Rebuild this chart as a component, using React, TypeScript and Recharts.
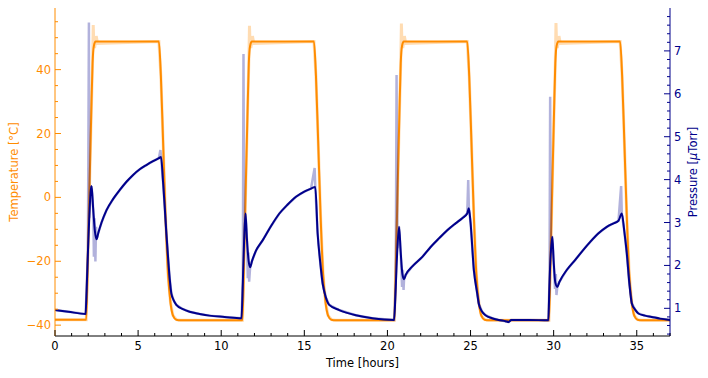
import { LineChart, Line, XAxis, YAxis } from "recharts";

const ORANGE = "#ff8c00";
const NAVY = "#00008b";
const FONT = '"DejaVu Sans", sans-serif';
const FONT_SIZE = 11.5;

// smoothed temperature [°C] vs time [hours]
const tempTime = [
    0, 1.88, 1.98, 2.08, 2.18, 2.26, 2.34, 2.44,
    6.25, 6.37, 6.5, 6.65, 6.8, 6.95, 7.1, 7.3, 7.55,
    11.28, 11.38, 11.48, 11.58, 11.66, 11.74, 11.84,
    15.58, 15.7, 15.83, 15.98, 16.13, 16.28, 16.43, 16.63, 16.88,
    20.42, 20.52, 20.62, 20.72, 20.8, 20.88, 20.98,
    24.8, 24.92, 25.05, 25.2, 25.35, 25.5, 25.65, 25.85, 26.1,
    29.72, 29.82, 29.92, 30.02, 30.1, 30.18, 30.28,
    34.0, 34.12, 34.25, 34.4, 34.55, 34.7, 34.85, 35.05, 35.3,
    37,
];
const tempValue = [
    -38.3, -38.3, -18, 4, 26, 42, 47.5, 48.8,
    48.8, 38, 18, -6, -24, -33, -37, -38.3, -38.5,
    -38.5, -18, 4, 26, 42, 47.5, 48.8,
    48.8, 38, 18, -6, -24, -33, -37, -38.3, -38.5,
    -38.5, -18, 4, 26, 42, 47.5, 48.8,
    48.8, 38, 18, -6, -24, -33, -37, -38.3, -38.5,
    -38.5, -18, 4, 26, 42, 47.5, 48.8,
    48.8, 38, 18, -6, -24, -33, -37, -38.3, -38.5,
    -38.5,
];

// raw temperature overshoot when each hot plateau starts
const tempSpikeTime = [
    2.3, 2.38, 2.48, 2.56,
    11.7, 11.78, 11.88, 11.96,
    20.84, 20.92, 21.02, 21.1,
    30.14, 30.22, 30.32, 30.4,
];
const tempSpikeValue = [
    54.0, 46.8, 50.5, 48.2,
    53.7, 46.8, 50.5, 48.2,
    54.4, 46.8, 50.5, 48.2,
    54.6, 46.8, 50.5, 48.2,
];

// smoothed pressure [µTorr] vs time [hours]
const pressTime = [
    0, 0.8, 1.84, 1.9, 1.98, 2.06, 2.14, 2.2, 2.3, 2.4, 2.5, 2.6, 2.8,
    3.1, 3.5, 3.9, 4.3, 4.7, 5.1, 5.5, 5.9, 6.25, 6.38,
    6.5, 6.6, 6.7, 6.8, 6.9, 7.0, 7.15, 7.3, 7.7, 8.1, 8.7, 9.3, 10.2,
    11.22, 11.3, 11.38, 11.46, 11.55, 11.65, 11.74, 11.85, 12.1, 12.5,
    13.0, 13.5, 14.0, 14.5, 15.0, 15.4, 15.66,
    15.8, 15.95, 16.1, 16.3, 16.5, 17.1, 18.1, 19.1,
    20.4, 20.5, 20.6, 20.7, 20.8, 20.9, 21.0, 21.1, 21.5, 22.1, 22.6,
    23.1, 23.6, 24.1, 24.5, 24.8, 24.9,
    25.0, 25.2, 25.4, 25.5, 25.7, 25.9, 26.3, 26.7, 27.1, 27.3, 27.45, 28.5,
    29.68, 29.75, 29.83, 29.92, 30.0, 30.1, 30.22, 30.35, 30.8, 31.3, 31.8,
    32.2, 32.7, 33.2, 33.6, 33.9, 34.1,
    34.25, 34.4, 34.55, 34.7, 34.9, 35.1, 35.5, 35.9, 36.4, 37,
];
const pressValue = [
    0.96, 0.92, 0.87, 1.4, 2.3, 3.1, 3.7, 3.85, 3.3, 2.8, 2.61, 2.75, 3.0,
    3.29, 3.55, 3.76, 3.95, 4.11, 4.24, 4.34, 4.43, 4.5, 4.53,
    3.95, 3.37, 2.75, 2.2, 1.7, 1.35, 1.18, 1.08, 0.98, 0.92, 0.87, 0.83, 0.8,
    0.77, 1.6, 2.6, 3.21, 2.6, 2.1, 1.96, 2.1, 2.35, 2.59,
    2.92, 3.21, 3.42, 3.6, 3.72, 3.79, 3.83,
    2.75, 2.1, 1.58, 1.25, 1.08, 0.96, 0.84, 0.77,
    0.73, 1.5, 2.4, 2.9, 2.3, 1.8, 1.68, 1.78, 1.98, 2.2, 2.43,
    2.63, 2.82, 2.98, 3.1, 3.21, 3.33,
    3.0, 1.89, 1.35, 1.1, 0.92, 0.84, 0.77, 0.73, 0.7, 0.68, 0.73, 0.73,
    0.72, 1.6, 2.3, 2.67, 2.1, 1.6, 1.5, 1.62, 1.9, 2.13, 2.37,
    2.55, 2.75, 2.9, 2.98, 3.04, 3.21,
    2.8, 2.28, 1.6, 1.12, 0.97, 0.88, 0.83, 0.8, 0.76, 0.73,
];

// raw pressure bursts: venting spike, ringing in the dip, spike at cool-down
const pressSpikeTime = [
    2.04, 2.34, 2.38, 2.43, 2.47, 6.34,
    11.34, 11.6, 11.64, 11.68, 15.62,
    20.55, 20.88, 20.93, 20.97, 24.86,
    29.79, 30.08, 30.13, 30.17, 34.06,
];
const pressSpikeValue = [
    7.66, 2.2, 3.1, 2.09, 2.9, 4.69,
    6.93, 1.7, 2.3, 1.62, 4.27,
    6.44, 1.5, 1.9, 1.43, 3.99,
    5.93, 1.45, 1.8, 1.31, 3.85,
];

const xMajorTicks = [0, 5, 10, 15, 20, 25, 30, 35];
const tempMajorTicks = [-40, -20, 0, 20, 40];
const pressMajorTicks = [1, 2, 3, 4, 5, 6, 7];

const xTicks = Array.from({ length: 38 }, (_, i) => i);
const tempTicks = Array.from({ length: 20 }, (_, i) => -40 + i * 5);
const pressTicks = Array.from({ length: 38 }, (_, i) => Math.round((0.4 + i * 0.2) * 10) / 10);

const series = (t: number[], v: number[]) => t.map((time, i) => ({ t: time, v: v[i] }));
const withSpikes = (t: number[], v: number[], st: number[], sv: number[]) =>
    [...series(t, v), ...series(st, sv)].sort((a, b) => a.t - b.t);

const tempData = series(tempTime, tempValue);
const tempRaw = withSpikes(tempTime, tempValue, tempSpikeTime, tempSpikeValue);
const pressData = series(pressTime, pressValue);
const pressRaw = withSpikes(pressTime, pressValue, pressSpikeTime, pressSpikeValue);

const fmt = (v: number) => (v < 0 ? "\u2212" + Math.abs(v) : String(v));

const renderXTick = (props: any) => {
    const { x, y, payload } = props;
    const v = payload.value;
    const major = xMajorTicks.includes(v);
    return (
        <g>
            <line x1={x} x2={x} y1={y} y2={y - (major ? 6 : 3)} stroke="#000" />
            {major && (
                <text x={x} y={y + 10} textAnchor="middle" dominantBaseline="central"
                    fontFamily={FONT} fontSize={FONT_SIZE} fill="#000">
                    {fmt(v)}
                </text>
            )}
        </g>
    );
};

const renderTempTick = (props: any) => {
    const { x, y, payload } = props;
    const v = payload.value;
    const major = tempMajorTicks.includes(v);
    return (
        <g>
            <line x1={x} x2={x + (major ? 6 : 3)} y1={y} y2={y} stroke={ORANGE} />
            {major && (
                <text x={x - 4} y={y} textAnchor="end" dominantBaseline="central"
                    fontFamily={FONT} fontSize={FONT_SIZE} fill={ORANGE}>
                    {fmt(v)}
                </text>
            )}
        </g>
    );
};

const renderPressTick = (props: any) => {
    const { x, y, payload } = props;
    const v = Math.round(payload.value * 10) / 10;
    const major = pressMajorTicks.includes(v);
    return (
        <g>
            <line x1={x} x2={x - (major ? 6 : 3)} y1={y} y2={y} stroke={NAVY} />
            {major && (
                <text x={x + 4} y={y} textAnchor="start" dominantBaseline="central"
                    fontFamily={FONT} fontSize={FONT_SIZE} fill={NAVY}>
                    {fmt(v)}
                </text>
            )}
        </g>
    );
};

const timeLabel = (props: any) => {
    const vb = props.viewBox || { x: 55, y: 336, width: 615, height: 42 };
    return (
        <text x={vb.x + vb.width / 2} y={vb.y + 27} textAnchor="middle" dominantBaseline="central"
            fontFamily={FONT} fontSize={FONT_SIZE} fill="#000">
            Time [hours]
        </text>
    );
};

const tempLabel = (props: any) => {
    const vb = props.viewBox || { x: 0, y: 8, width: 55, height: 328 };
    const cx = vb.x + 14;
    const cy = vb.y + vb.height / 2;
    return (
        <text x={cx} y={cy} transform={`rotate(-90, ${cx}, ${cy})`} textAnchor="middle"
            dominantBaseline="central" fontFamily={FONT} fontSize={FONT_SIZE} fill={ORANGE}>
            Temperature [°C]
        </text>
    );
};

const pressLabel = (props: any) => {
    const vb = props.viewBox || { x: 670, y: 8, width: 38, height: 328 };
    const cx = vb.x + 23;
    const cy = vb.y + vb.height / 2;
    return (
        <text x={cx} y={cy} transform={`rotate(-90, ${cx}, ${cy})`} textAnchor="middle"
            dominantBaseline="central" fontFamily={FONT} fontSize={FONT_SIZE} fill={NAVY}>
            Pressure [<tspan fontStyle="italic">μ</tspan>Torr]
        </text>
    );
};

export default function App() {
    return (
        <div style={{ width: 708, height: 378, background: "#fff" }}>
            <style>{"body{margin:0}"}</style>
            <LineChart width={708} height={378} margin={{ top: 8, right: 0, bottom: 0, left: 0 }}>
                <XAxis
                    xAxisId="x"
                    dataKey="t"
                    type="number"
                    domain={[0, 37]}
                    ticks={xTicks}
                    interval={0}
                    allowDataOverflow
                    height={42}
                    tickLine={false}
                    tickSize={0}
                    tickMargin={0}
                    tick={renderXTick}
                    axisLine={{ stroke: "#000" }}
                    label={timeLabel}
                />
                <XAxis
                    xAxisId="top"
                    orientation="top"
                    type="number"
                    domain={[0, 37]}
                    height={0}
                    tick={false}
                    tickLine={false}
                    axisLine={{ stroke: "#000" }}
                />
                <YAxis
                    yAxisId="temp"
                    type="number"
                    domain={[-43.4, 59.3]}
                    ticks={tempTicks}
                    interval={0}
                    allowDataOverflow
                    width={55}
                    tickLine={false}
                    tickSize={0}
                    tickMargin={0}
                    tick={renderTempTick}
                    axisLine={{ stroke: ORANGE }}
                    label={tempLabel}
                />
                <YAxis
                    yAxisId="press"
                    orientation="right"
                    type="number"
                    domain={[0.355, 8.0]}
                    ticks={pressTicks}
                    interval={0}
                    allowDataOverflow
                    width={38}
                    tickLine={false}
                    tickSize={0}
                    tickMargin={0}
                    tick={renderPressTick}
                    axisLine={{ stroke: NAVY }}
                    label={pressLabel}
                />

                <Line xAxisId="x" yAxisId="temp" data={tempRaw} dataKey="v" type="linear"
                    stroke={ORANGE} strokeOpacity={0.3} strokeWidth={3}
                    dot={false} activeDot={false} isAnimationActive={false} />
                <Line xAxisId="x" yAxisId="temp" data={tempData} dataKey="v" type="monotone"
                    stroke={ORANGE} strokeWidth={2}
                    dot={false} activeDot={false} isAnimationActive={false} />
                <Line xAxisId="x" yAxisId="press" data={pressRaw} dataKey="v" type="linear"
                    stroke={NAVY} strokeOpacity={0.3} strokeWidth={2.5}
                    dot={false} activeDot={false} isAnimationActive={false} />
                <Line xAxisId="x" yAxisId="press" data={pressData} dataKey="v" type="monotone"
                    stroke={NAVY} strokeWidth={2}
                    dot={false} activeDot={false} isAnimationActive={false} />
            </LineChart>
        </div>
    );
}
